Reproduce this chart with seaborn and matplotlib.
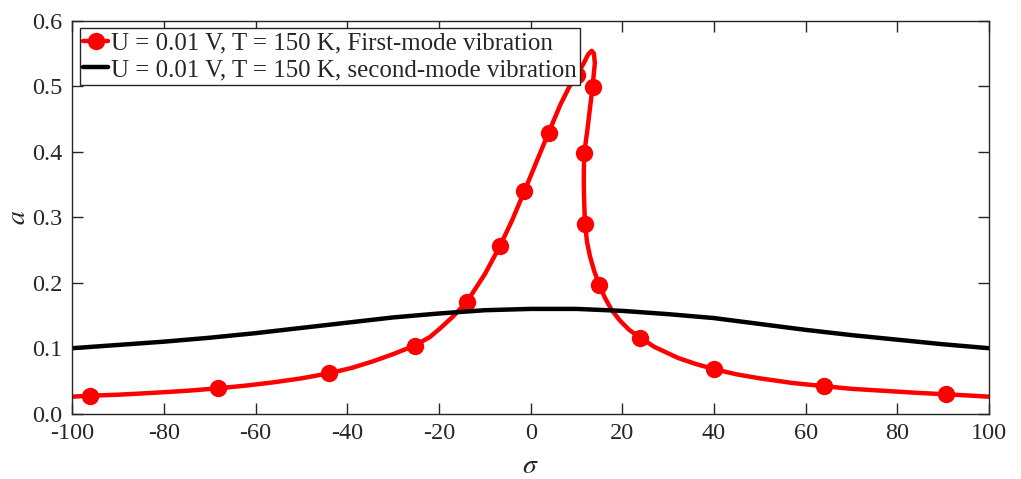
import numpy as np
import pandas as pd
import matplotlib
matplotlib.use("Agg")
import matplotlib.pyplot as plt
import seaborn as sns

# ---- data ----
# first-mode response curve (multivalued, in drawing order)
sigma1 = [-100, -96.2, -90, -82, -75, -68.2, -62, -56, -50, -44.0, -39, -34.4,
          -30, -25.3, -22, -19.8, -17, -13.9, -10.0, -6.7, -4.0, -1.35, 1.3,
          3.9, 6.5, 8.5, 10.1, 11.65, 12.5, 13.3, 13.8, 14.0, 13.5, 13.0,
          12.4, 11.7, 11.6, 11.6, 11.7, 11.86, 12.3, 12.95, 13.9, 15.0, 16.2,
          17.7, 19.5, 21.5, 23.9, 27.0, 32.2, 36.0, 40.0, 45.0, 50.0, 57.0,
          64.0, 70.0, 77.0, 84.0, 90.6, 95.0, 100]
a1 = [0.026, 0.0275, 0.029, 0.032, 0.035, 0.0388, 0.043, 0.048, 0.054, 0.0617,
      0.070, 0.080, 0.091, 0.104, 0.117, 0.130, 0.148, 0.171, 0.213, 0.256,
      0.296, 0.340, 0.385, 0.429, 0.472, 0.500, 0.517, 0.536, 0.548, 0.554,
      0.550, 0.535, 0.499, 0.470, 0.435, 0.398, 0.370, 0.347, 0.318, 0.290,
      0.262, 0.240, 0.217, 0.196, 0.177, 0.158, 0.142, 0.128, 0.116, 0.102,
      0.085, 0.076, 0.068, 0.060, 0.054, 0.047, 0.042, 0.038, 0.035, 0.032,
      0.0296, 0.028, 0.026]
marker_sigma = [-96.2, -68.2, -44.0, -25.3, -13.9, -6.7, -1.35, 3.9, 10.1,
                13.5, 11.7, 11.86, 15.0, 23.9, 40.0, 64.0, 90.6]

# second-mode response curve
sigma2 = [-100, -90, -80, -70, -60, -50, -40, -30, -20, -10, 0, 5, 10, 20, 30,
          40, 50, 60, 70, 80, 90, 100]
a2 = [0.100, 0.105, 0.110, 0.116, 0.123, 0.131, 0.139, 0.147, 0.153, 0.158,
      0.160, 0.160, 0.160, 0.157, 0.152, 0.146, 0.137, 0.128, 0.120, 0.113,
      0.106, 0.100]

label1 = "U = 0.01 V, T = 150 K, First-mode vibration"
label2 = "U = 0.01 V, T = 150 K, second-mode vibration"

xticks = [-100, -80, -60, -40, -20, 0, 20, 40, 60, 80, 100]
yticks = [0.0, 0.1, 0.2, 0.3, 0.4, 0.5, 0.6]

sns.set_theme(style="white")
plt.rcParams["font.family"] = ["Liberation Serif", "DejaVu Serif"]
plt.rcParams["mathtext.fontset"] = "stix"

df1 = pd.DataFrame({"sigma": sigma1, "a": a1})
df2 = pd.DataFrame({"sigma": sigma2, "a": a2})
marker_idx = [sigma1.index(s) for s in marker_sigma]

fig = plt.figure(figsize=(10.21, 4.79), dpi=100)
ax = fig.add_axes([0.0708, 0.1363, 0.8979, 0.8205])

sns.lineplot(data=df1, x="sigma", y="a", sort=False, estimator=None, ax=ax,
             color="#ff0000", lw=3.2, marker="o", markersize=12.5,
             markeredgewidth=0, markevery=marker_idx, label=label1)
sns.lineplot(data=df2, x="sigma", y="a", sort=False, estimator=None, ax=ax,
             color="black", lw=3.2, label=label2)

ax.set_xlim(-100, 100)
ax.set_ylim(0, 0.6)
ax.set_xticks(xticks)
ax.set_xticklabels([f"{v}" for v in xticks])
ax.set_yticks(yticks)
ax.set_yticklabels([f"{v:.1f}" for v in yticks])
ax.tick_params(direction="in", length=8, width=1, labelsize=17.5, colors="#262626",
               top=True, right=True, bottom=True, left=True, pad=7)
for s in ax.spines.values():
    s.set_color("#262626")
    s.set_linewidth(1.0)

ax.set_xlabel(r"$\sigma$", fontsize=20, labelpad=7)
ax.set_ylabel(r"$a$", fontsize=20, labelpad=1)

leg = ax.legend(loc="upper left", fontsize=17.9, frameon=True, fancybox=False,
                borderaxespad=0.3, handlelength=1.0, handletextpad=0.1,
                labelspacing=0.18, borderpad=0.15)
leg.get_frame().set_edgecolor("#262626")
leg.get_frame().set_linewidth(1.0)
leg.get_frame().set_alpha(1)

fig.savefig("out.png", dpi=100)
